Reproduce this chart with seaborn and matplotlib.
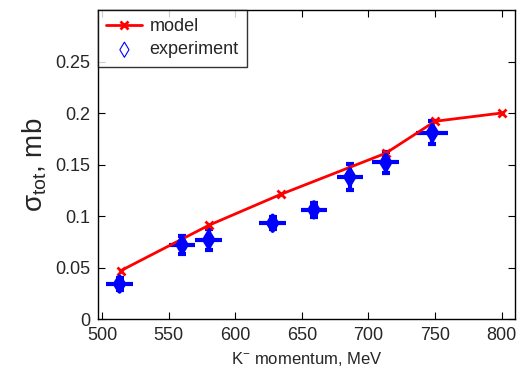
import matplotlib
matplotlib.use("Agg")
import matplotlib.pyplot as plt
import seaborn as sns
import numpy as np

# model curve
model_p = [514, 580, 634, 713, 750, 800]
model_sigma = [0.047, 0.091, 0.121, 0.161, 0.192, 0.200]

# experiment
exp_p = [513, 560, 580, 628, 659, 686, 713, 748]
exp_sigma = [0.034, 0.072, 0.077, 0.093, 0.106, 0.138, 0.152, 0.181]
exp_yerr = [0.006, 0.009, 0.010, 0.006, 0.007, 0.013, 0.010, 0.011]
exp_xerr = [10, 10, 10, 10, 10, 10, 10, 12]

sns.set_style("ticks")
plt.rcParams['font.family'] = ['Liberation Sans', 'DejaVu Sans']
plt.rcParams['mathtext.fontset'] = 'custom'
plt.rcParams['mathtext.rm'] = 'Liberation Sans'
plt.rcParams['mathtext.it'] = 'Liberation Sans'

fig = plt.figure(figsize=(5.17, 3.71), dpi=100)
ax = fig.add_axes([0.19, 0.14, 0.806, 0.833])

# horizontal bars without caps, vertical bars with caps
ax.errorbar(exp_p, exp_sigma, xerr=exp_xerr, fmt='none',
            ecolor='#0000ff', elinewidth=3, capsize=0, zorder=2)
ax.errorbar(exp_p, exp_sigma, yerr=exp_yerr, fmt='none',
            ecolor='#0000ff', elinewidth=3, capsize=3, capthick=3, zorder=2)
sns.lineplot(x=model_p, y=model_sigma, ax=ax, color='#ff0000', lw=2,
             marker='x', markersize=6, mew=2, markeredgecolor='#ff0000',
             label='model', zorder=3)
sns.scatterplot(x=exp_p, y=exp_sigma, ax=ax, marker='d', s=60,
                facecolor='none', edgecolor='#0000ff', linewidth=3,
                label='experiment', zorder=4)

ax.set_xlim(497, 810)
ax.set_ylim(0, 0.3)
ax.set_xticks(range(500, 801, 50))
ax.set_yticks([0, 0.05, 0.1, 0.15, 0.2, 0.25])
ax.set_yticklabels(['0', '0.05', '0.1', '0.15', '0.2', '0.25'])
ax.tick_params(direction='in', top=True, right=True, labelsize=13, length=5,
               color='black', pad=6)
for s in ax.spines.values():
    s.set_color('black')
    s.set_linewidth(1)

ax.set_xlabel(r'K$^{-}$ momentum, MeV', fontsize=12)
ax.set_ylabel(r'$\sigma_{\rm tot}$, mb', fontsize=20)

leg = ax.legend(loc='upper left', fontsize=13, frameon=True, fancybox=False,
                borderaxespad=0, handlelength=2.0, handletextpad=0.4,
                borderpad=0.45, labelspacing=0.35)
leg.get_frame().set_edgecolor('black')
leg.get_frame().set_linewidth(1)
# thin diamond marker in legend, as in the reference
h = leg.legend_handles[1]
h.set_linewidth(0.8)
h.set_sizes([60])

fig.savefig("out.png", dpi=100)
